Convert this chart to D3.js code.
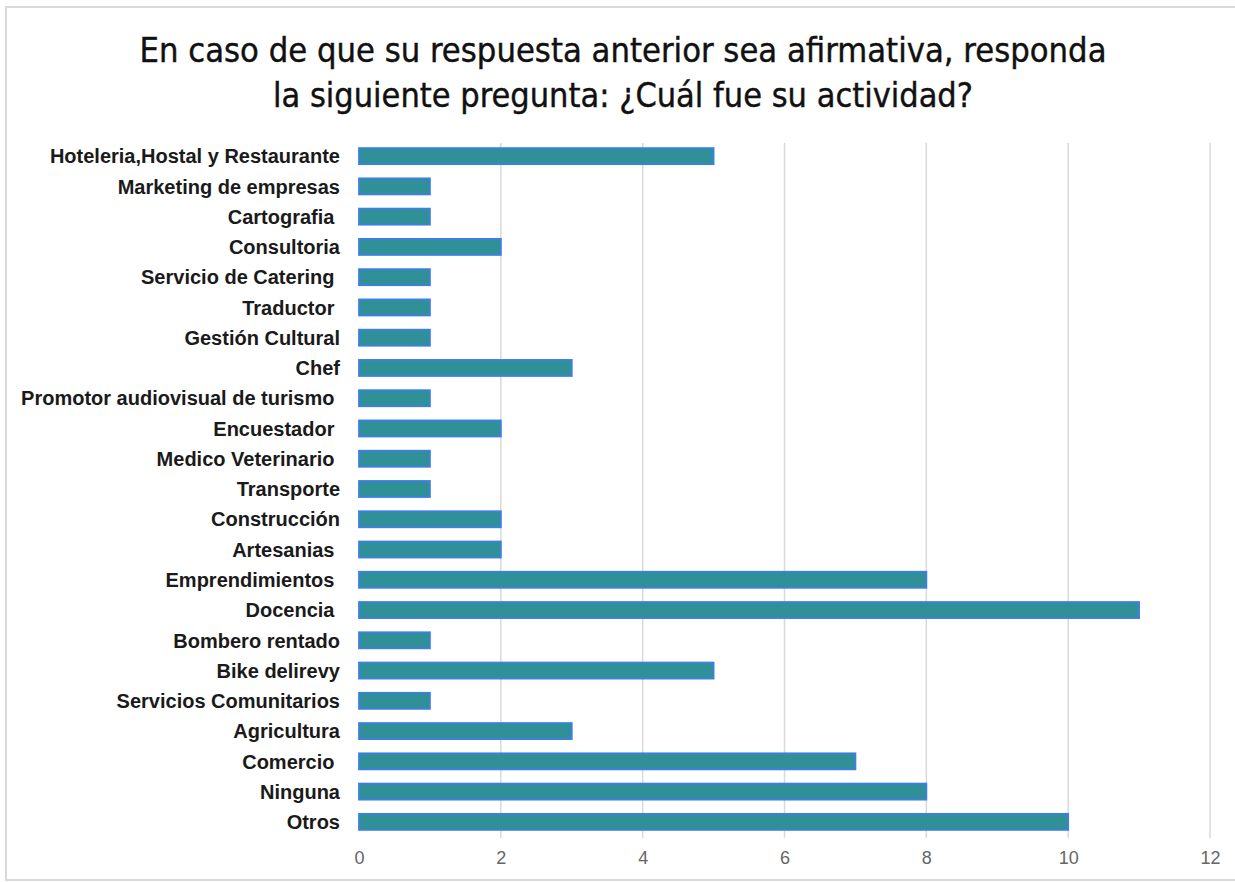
<!DOCTYPE html>
<html><head><meta charset="utf-8">
<script src="https://cdn.jsdelivr.net/npm/d3@7"></script>
<style>
html,body{margin:0;padding:0;background:#fff;}
svg text{white-space:pre;}
</style></head>
<body>
<svg id="c" width="1235" height="882"></svg>
<script>
const categories = ["Hoteleria,Hostal y Restaurante","Marketing de empresas","Cartografia ","Consultoria","Servicio de Catering ","Traductor ","Gestión Cultural","Chef","Promotor audiovisual de turismo ","Encuestador ","Medico Veterinario ","Transporte","Construcción","Artesanias ","Emprendimientos ","Docencia ","Bombero rentado","Bike delirevy","Servicios Comunitarios","Agricultura","Comercio ","Ninguna","Otros"];
const values = [5,1,1,2,1,1,1,3,1,2,1,1,2,2,8,11,1,5,1,3,7,8,10];
const xTicks = [0,2,4,6,8,10,12];
const titleLines = ["En caso de que su respuesta anterior sea afirmativa, responda","la siguiente pregunta: ¿Cuál fue su actividad?"];

const svg = d3.select("#c");
svg.append("rect").attr("x",6).attr("y",7).attr("width",1240).attr("height",873)
  .attr("fill","#fff").attr("stroke","#d9d9d9").attr("stroke-width",2);

const x = d3.scaleLinear().domain([0,12]).range([359,1210]);
const y = d3.scaleBand().domain(categories).range([141,837]).paddingInner(0.47).paddingOuter(0.235);

// grid
svg.append("g").selectAll("line").data(xTicks.slice(1)).join("line")
  .attr("x1",d=>x(d)).attr("x2",d=>x(d)).attr("y1",143).attr("y2",838)
  .attr("stroke","#d9d9d9").attr("stroke-width",1.5);

// bars
svg.append("g").selectAll("rect").data(values).join("rect")
  .attr("x",x(0)).attr("y",(d,i)=>y(categories[i]))
  .attr("width",d=>x(d)-x(0)).attr("height",y.bandwidth())
  .attr("fill","#2f9097").attr("stroke","#3d7fe6").attr("stroke-width",1.8);

// y labels
svg.append("g").selectAll("text").data(categories).join("text")
  .attr("x",340).attr("y",d=>y(d)+y.bandwidth()/2).attr("dy","0.36em")
  .attr("text-anchor","end").attr("font-family","Liberation Sans, Arial, sans-serif")
  .attr("font-weight","bold").attr("font-size",20).attr("fill","#1a1a1a").text(d=>d);

// x axis
const xa = d3.axisBottom(x).tickValues(xTicks).tickSize(0).tickPadding(0);
const g = svg.append("g").attr("transform","translate(0,851)").call(xa);
g.select(".domain").remove();
g.selectAll("text").attr("font-family","Liberation Sans, Arial, sans-serif").attr("font-size",18).attr("fill","#666").attr("dy","0.71em");

// title
const tl = [[62,967],[107,700]];
svg.append("g").selectAll("text").data(titleLines).join("text")
  .attr("x",623).attr("y",(d,i)=>tl[i][0]).attr("text-anchor","middle")
  .attr("font-family","DejaVu Sans Condensed, DejaVu Sans, sans-serif").attr("font-stretch","condensed")
  .attr("font-size",34).attr("fill","#111").attr("stroke","#111").attr("stroke-width",0.4)
  .attr("textLength",(d,i)=>tl[i][1]).attr("lengthAdjust","spacingAndGlyphs").text(d=>d);
</script>
</body></html>
